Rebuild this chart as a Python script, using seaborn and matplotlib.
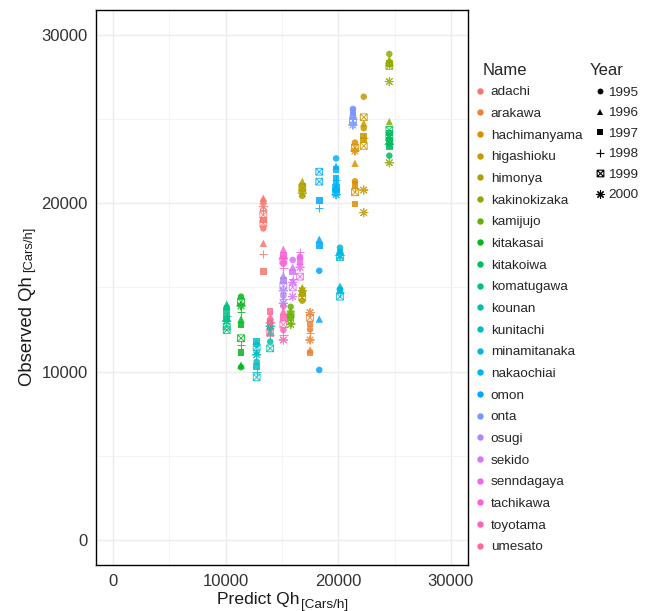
import numpy as np
import pandas as pd
import seaborn as sns
import matplotlib.pyplot as plt
from matplotlib.path import Path
from matplotlib.lines import Line2D
from matplotlib.ticker import MultipleLocator

# ---- data ----
names = ["adachi", "arakawa", "hachimanyama", "higashioku", "himonya", "kakinokizaka",
         "kamijujo", "kitakasai", "kitakoiwa", "komatugawa", "kounan", "kunitachi",
         "minamitanaka", "nakaochiai", "omon", "onta", "osugi", "sekido",
         "senndagaya", "tachikawa", "toyotama", "umesato"]
predict_qh = [13340, 17490, 21480, 22260, 16800, 24530,
              15770, 11360, 24530, 10090, 13950, 12750,
              20150, 19800, 18310, 21300, 15120, 15950,
              16600, 15120, 15120, 13950]
n_points = [11, 8, 9, 10, 11, 8, 6, 11, 9, 8, 7, 9, 10, 11, 9, 7, 7, 7, 6, 6, 7, 6]

years = [1995, 1996, 1997, 1998, 1999, 2000]

obs_year = [
    1995, 1995, 1996, 1996, 1997, 1997, 1998, 1998, 1999, 1999, 2000,        # adachi
    1995, 1996, 1997, 1997, 1998, 1999, 2000, 2000,                          # arakawa
    1995, 1995, 1996, 1997, 1997, 1998, 1999, 1999, 2000,                    # hachimanyama
    1995, 1995, 1996, 1997, 1997, 1998, 1999, 1999, 2000, 2000,              # higashioku
    1995, 1995, 1996, 1996, 1997, 1997, 1998, 1999, 1999, 2000, 2000,        # himonya
    1995, 1996, 1996, 1997, 1998, 1999, 2000, 2000,                          # kakinokizaka
    1995, 1996, 1997, 1998, 1999, 2000,                                      # kamijujo
    1995, 1995, 1996, 1996, 1997, 1997, 1998, 1998, 1999, 1999, 2000,        # kitakasai
    1995, 1996, 1997, 1997, 1997, 1998, 1999, 1999, 2000,                    # kitakoiwa
    1995, 1996, 1997, 1997, 1998, 1999, 1999, 2000,                          # komatugawa
    1995, 1995, 1996, 1997, 1998, 1999, 2000,                                # kounan
    1995, 1995, 1996, 1997, 1997, 1998, 1999, 1999, 2000,                    # kunitachi
    1995, 1995, 1996, 1996, 1997, 1997, 1998, 1999, 1999, 2000,              # minamitanaka
    1995, 1995, 1996, 1996, 1997, 1997, 1997, 1998, 1999, 1999, 2000,        # nakaochiai
    1995, 1995, 1996, 1996, 1997, 1997, 1998, 1999, 1999,                    # omon
    1995, 1996, 1997, 1997, 1998, 1999, 2000,                                # onta
    1995, 1996, 1997, 1998, 1999, 2000, 2000,                                # osugi
    1995, 1996, 1997, 1998, 1999, 2000, 2000,                                # sekido
    1995, 1996, 1997, 1998, 1999, 2000,                                      # senndagaya
    1995, 1996, 1997, 1998, 1999, 2000,                                      # tachikawa
    1995, 1995, 1996, 1997, 1998, 1999, 2000,                                # toyotama
    1995, 1996, 1997, 1998, 1999, 2000,                                      # umesato
]
obs_qh = [
    20100, 18500, 20300, 17620, 19000, 15930, 19600, 16970, 19300, 18800, 19800,
    12500, 11300, 12830, 11100, 12300, 13200, 13500, 11880,
    23600, 21300, 22370, 21100, 19950, 20900, 23300, 20650, 23100,
    26320, 24450, 24750, 24000, 23750, 23900, 25100, 23400, 20780, 19440,
    20430, 14210, 21300, 15000, 21000, 14600, 20800, 20900, 14400, 20600, 14800,
    28860, 28540, 24840, 28300, 28200, 28150, 27220, 22400,
    13850, 13600, 13200, 12900, 13400, 12800,
    14450, 10260, 13120, 10390, 12770, 11120, 13560, 11580, 14150, 11980, 13900,
    22820, 24000, 24170, 23750, 23360, 23600, 24350, 23900, 23500,
    13800, 14010, 13560, 13160, 13300, 12670, 12470, 13000,
    11780, 12600, 12400, 12900, 12200, 11380, 12700,
    11600, 10590, 11180, 11780, 10290, 9990, 9660, 11450, 11000,
    17360, 14900, 17200, 15080, 17100, 14800, 14700, 16790, 14450, 16900,
    22660, 21200, 22200, 21000, 22000, 21500, 20800, 21400, 20680, 20900, 20500,
    15990, 10100, 17860, 13120, 20150, 17480, 19700, 21870, 21280,
    25600, 25400, 25500, 25200, 25000, 24900, 24640,
    14500, 15700, 15400, 14300, 15100, 14800, 14060,
    16630, 16200, 15900, 15500, 15000, 14450, 15300,
    16800, 16900, 16500, 17120, 15640, 16200,
    16400, 17260, 16900, 16130, 16600, 16700,
    13900, 12470, 13600, 13200, 12200, 12800, 11880,
    13000, 13300, 13560, 12600, 12300, 12900,
]

df = pd.DataFrame({
    "Name": np.repeat(names, n_points),
    "Year": obs_year,
    "Observed": obs_qh,
})
df["Predict"] = df["Name"].map(dict(zip(names, predict_qh)))


# ggplot default hue palette (hcl, c=100, l=65)
def hcl_color(h, c=100, l=65):
    xn, yn, zn = 95.047, 100.0, 108.883
    un = 4 * xn / (xn + 15 * yn + 3 * zn)
    vn = 9 * yn / (xn + 15 * yn + 3 * zn)
    u = c * np.cos(np.radians(h))
    v = c * np.sin(np.radians(h))
    y = yn * ((l + 16) / 116) ** 3
    up = u / (13 * l) + un
    vp = v / (13 * l) + vn
    x = y * 9 * up / (4 * vp)
    z = y * (12 - 3 * up - 20 * vp) / (4 * vp)
    m = np.array([[3.2404542, -1.5371385, -0.4985314],
                  [-0.9692660, 1.8760108, 0.0415560],
                  [0.0556434, -0.2040259, 1.0572252]])
    rgb = m @ (np.array([x, y, z]) / 100)
    rgb = np.clip(rgb, 0, None)
    rgb = np.where(rgb <= 0.0031308, 12.92 * rgb, 1.055 * rgb ** (1 / 2.4) - 0.055)
    return tuple(np.clip(rgb, 0, 1))


palette = {nm: hcl_color(15 + 360 * i / len(names)) for i, nm in enumerate(names)}

# square with a cross (ggplot shape 7), drawn as separate segments so nothing gets filled
box_x = Path(
    [(-1, -1), (1, -1), (1, -1), (1, 1), (1, 1), (-1, 1), (-1, 1), (-1, -1),
     (-1, -1), (1, 1), (-1, 1), (1, -1)],
    [Path.MOVETO, Path.LINETO] * 6,
)

year_marker = {1995: "o", 1996: "^", 1997: "s", 1998: "+", 1999: box_x, 2000: (8, 2, 0)}
year_size = {1995: 22, 1996: 28, 1997: 22, 1998: 36, 1999: 24, 2000: 36}

# ---- plot ----
sns.set_style("white")
plt.rcParams["font.family"] = ["Liberation Sans", "DejaVu Sans"]

fig = plt.figure(figsize=(6.52, 6.11), dpi=100)
ax = fig.add_axes([96.2 / 652, 1 - 565.3 / 611, 371.6 / 652, 555.8 / 611])

for yr in years:
    sub = df[df["Year"] == yr]
    if yr in (1995, 1996, 1997):
        kw = dict(edgecolor="none", linewidth=0)
    elif yr == 1999:
        kw = dict(edgecolor="face", linewidth=0.7)
    else:
        kw = dict(linewidth=0.7)
    sns.scatterplot(data=sub, x="Predict", y="Observed", hue="Name",
                    hue_order=names, palette=palette, marker=year_marker[yr],
                    s=year_size[yr], alpha=0.85, legend=False, ax=ax, **kw)

ax.set_xlim(-1500, 31500)
ax.set_ylim(-1500, 31500)
ax.xaxis.set_major_locator(MultipleLocator(10000))
ax.yaxis.set_major_locator(MultipleLocator(10000))
ax.xaxis.set_minor_locator(MultipleLocator(5000))
ax.yaxis.set_minor_locator(MultipleLocator(5000))
ax.set_axisbelow(True)
ax.grid(which="major", color="#EBEBEB", linewidth=1.0)
ax.grid(which="minor", color="#F2F2F2", linewidth=0.6)
ax.tick_params(which="major", length=3.5, width=0.8, color="#333333",
               labelsize=12, labelcolor="#333333", pad=2.5)
ax.tick_params(which="minor", length=0)
for sp in ax.spines.values():
    sp.set_color("black")
    sp.set_linewidth(1.0)
ax.set_xlabel("")
ax.set_ylabel("")

# axis titles with the smaller unit part
fig.canvas.draw()
renderer = fig.canvas.get_renderer()

tx = fig.text(217 / 652, 1 - 604 / 611, "Predict Qh", fontsize=12.6,
              ha="left", va="baseline", color="#1a1a1a")
bb = tx.get_window_extent(renderer)
fig.text((bb.x1 + 1) / 652, 1 - 608 / 611, "[Cars/h]", fontsize=9.7,
         ha="left", va="baseline", color="#1a1a1a")

ty = fig.text(31.7 / 652, 1 - 386 / 611, "Observed Qh", fontsize=13.3, rotation=90,
              rotation_mode="anchor", ha="left", va="baseline", color="#1a1a1a")
bb = ty.get_window_extent(renderer)
fig.text(31.7 / 652, (bb.y1 + 4) / 611, "[Cars/h]", fontsize=9.3, rotation=90,
         rotation_mode="anchor", ha="left", va="baseline", color="#1a1a1a")

# ---- legends ----
fig.text(483 / 652, 1 - 70.5 / 611, "Name", fontsize=12, ha="left", va="center")
fig.text(590 / 652, 1 - 70.5 / 611, "Year", fontsize=12, ha="left", va="center")

name_handles = [Line2D([], [], linestyle="none", marker="o", markersize=4.6,
                       markerfacecolor=palette[nm], markeredgecolor="none", label=nm)
                for nm in names]
leg1 = fig.legend(handles=name_handles, loc="upper left",
                  bbox_to_anchor=(473.3 / 652, 1 - 86 / 611), frameon=False,
                  fontsize=9.7, borderpad=0, borderaxespad=0, handlelength=1.0,
                  handletextpad=0.29, labelspacing=0.685)

year_ms = {1995: 4.2, 1996: 5.0, 1997: 4.4, 1998: 6.0, 1999: 4.8, 2000: 6.0}
year_handles = [Line2D([], [], linestyle="none", marker=year_marker[yr],
                       markersize=year_ms[yr], color="black",
                       markeredgewidth=0.8 if yr in (1998, 1999, 2000) else 0,
                       label=str(yr))
                for yr in years]
leg2 = fig.legend(handles=year_handles, loc="upper left",
                  bbox_to_anchor=(594.6 / 652, 1 - 86.5 / 611), frameon=False,
                  fontsize=9.7, borderpad=0, borderaxespad=0, handlelength=0.8,
                  handletextpad=0.2, labelspacing=0.6)

fig.savefig("out.png", dpi=100)
